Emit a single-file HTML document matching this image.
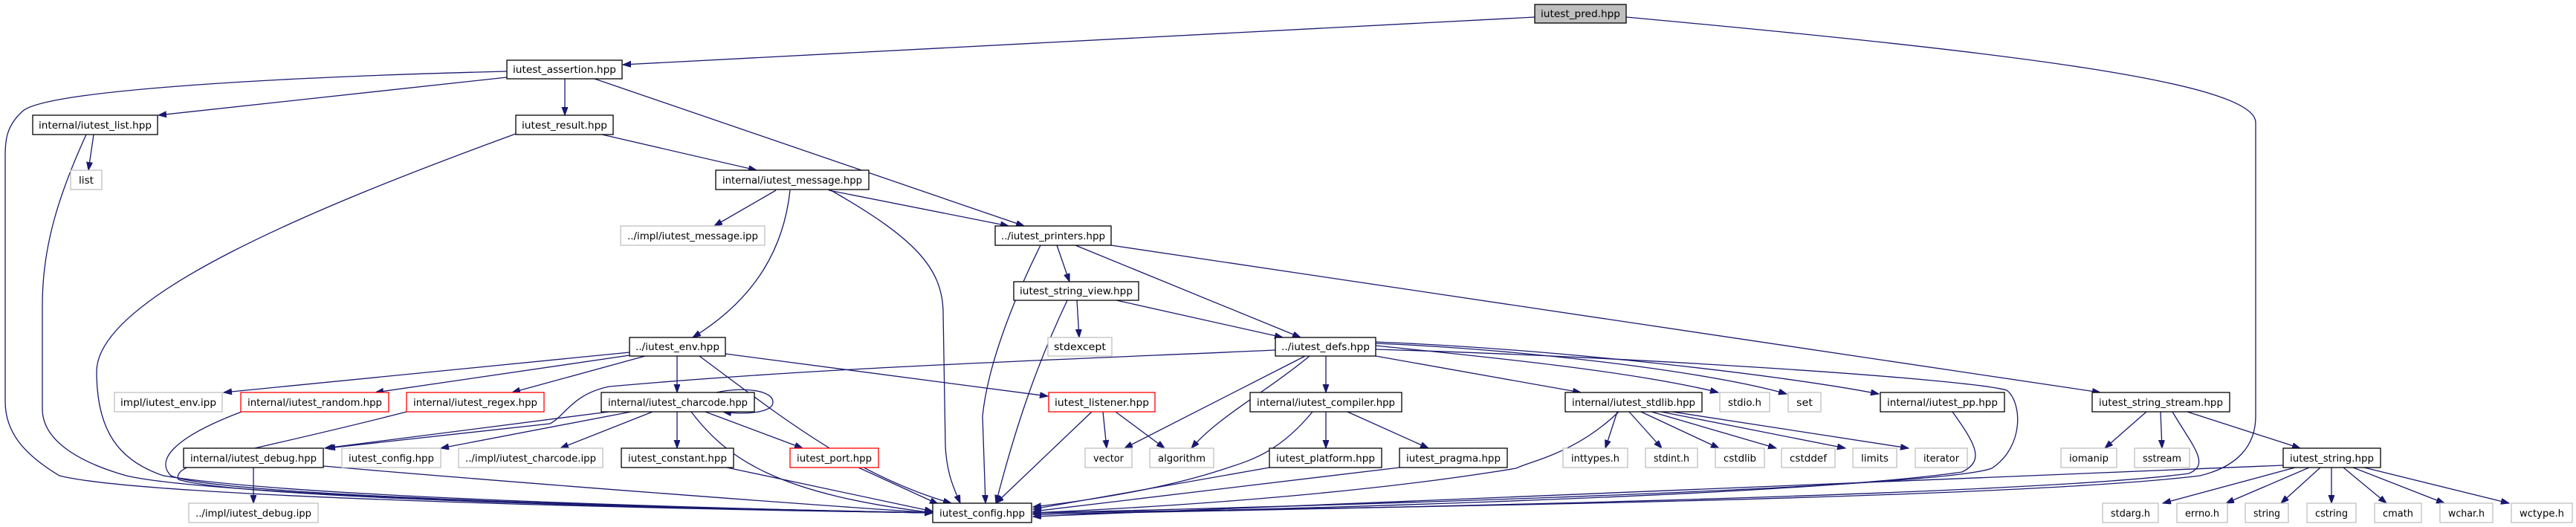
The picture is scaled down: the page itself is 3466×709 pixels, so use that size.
<!DOCTYPE html>
<html><head><meta charset="utf-8"><style>
html,body{margin:0;padding:0;background:#fff;}
svg{display:block;}
text{font-family:"DejaVu Sans","Liberation Sans",sans-serif;font-size:13px;fill:#000;}
.n{fill:#fff;stroke:#000;stroke-width:1.3;}
.g{fill:#fff;stroke:#bfbfbf;stroke-width:1.3;}
.r{fill:#fff;stroke:#ff0000;stroke-width:1.3;}
.p{fill:#bfbfbf;stroke:#000;stroke-width:1.3;}
path.e{fill:none;stroke:#191970;stroke-width:1.3;marker-end:url(#a);}
</style></head><body>
<svg width="3466" height="709" viewBox="0 0 3466 709" xmlns="http://www.w3.org/2000/svg">
<defs><marker id="a" markerUnits="userSpaceOnUse" markerWidth="12" markerHeight="10" refX="11" refY="4" orient="auto"><path d="M0,0 L11,4 L0,8 z" fill="#191970" stroke="#191970"/></marker></defs>

<!-- edges -->
<path class="e" d="M2065,23 L838,87"/>
<path class="e" d="M2188,23 C2700,70 3035,110 3035,165 L3035,560 C3035,600 3010,628 2960,640 C2700,672 1800,684 1390,690"/>
<path class="e" d="M682,104 L213,155"/>
<path class="e" d="M760,106 L760,155"/>
<path class="e" d="M800,106 L1378,304"/>
<path class="e" d="M682,96 C400,103 60,120 30,150 C8,170 7,190 7,210 L7,540 C7,580 30,610 80,640 C200,670 900,685 1255,690"/>
<path class="e" d="M126,181 L119,229"/>
<path class="e" d="M116,181 C80,260 57,330 57,410 L57,550 C57,590 100,620 170,640 C300,670 1000,685 1255,690"/>
<path class="e" d="M810,181 L1018,229"/>
<path class="e" d="M694,180 C420,280 130,400 130,500 C130,580 160,620 220,640 C400,670 1000,685 1255,690"/>
<path class="e" d="M1044,256 L961,304"/>
<path class="e" d="M1115,256 L1357,304"/>
<path class="e" d="M1063,256 C1055,330 1020,400 932,454"/>
<path class="e" d="M1118,256 C1230,320 1268,360 1269,420 L1272,600 C1274,640 1285,660 1292,677"/>
<path class="e" d="M1422,330 L1439,379"/>
<path class="e" d="M1447,330 L1750,454"/>
<path class="e" d="M1400,330 C1375,380 1330,480 1322,560 L1326,677"/>
<path class="e" d="M1495,330 L2826,528"/>
<path class="e" d="M1449,404 L1452,454"/>
<path class="e" d="M1502,404 L1726,454"/>
<path class="e" d="M1436,404 C1400,480 1370,560 1340,677"/>
<path class="e" d="M1716,471 C1400,485 1100,495 820,520 C770,530 760,560 740,570 L440,603"/>
<path class="e" d="M1756,479 L1513,603"/>
<path class="e" d="M1762,479 C1700,530 1640,560 1603,603"/>
<path class="e" d="M1784,479 L1784,528"/>
<path class="e" d="M1851,479 L2127,528"/>
<path class="e" d="M1851,465 C2000,480 2200,500 2312,528"/>
<path class="e" d="M1851,462 C2050,470 2300,500 2404,530"/>
<path class="e" d="M1851,460 C2100,470 2400,505 2528,530"/>
<path class="e" d="M1851,470 C2200,480 2650,510 2700,525 C2720,540 2725,600 2680,630 C2600,660 1600,685 1390,690"/>
<path class="e" d="M1784,554 L1784,603"/>
<path class="e" d="M1813,554 L1922,603"/>
<path class="e" d="M1766,554 C1720,610 1680,620 1650,630 C1560,660 1450,675 1390,682"/>
<path class="e" d="M1708,629 L1390,685"/>
<path class="e" d="M1883,629 L1390,688"/>
<path class="e" d="M2176,554 L2160,603"/>
<path class="e" d="M2192,554 L2236,603"/>
<path class="e" d="M2208,554 L2313,603"/>
<path class="e" d="M2222,554 L2390,603"/>
<path class="e" d="M2235,554 L2483,603"/>
<path class="e" d="M2250,554 L2568,603"/>
<path class="e" d="M2178,554 C2120,610 2060,620 2040,630 C1800,670 1500,685 1390,690"/>
<path class="e" d="M1484,554 L1489,603"/>
<path class="e" d="M1501,554 L1567,603"/>
<path class="e" d="M1469,554 L1340,677"/>
<path class="e" d="M847,474 L301,528"/>
<path class="e" d="M847,478 L505,528"/>
<path class="e" d="M868,479 L689,528"/>
<path class="e" d="M911,479 L911,528"/>
<path class="e" d="M976,476 L1410,533"/>
<path class="e" d="M941,479 C1050,560 1150,640 1280,677"/>
<path class="e" d="M964,528 C1000,520 1040,525 1040,541 C1040,556 1000,558 973,554"/>
<path class="e" d="M819,554 L437,603"/>
<path class="e" d="M849,554 L593,603"/>
<path class="e" d="M878,554 L754,603"/>
<path class="e" d="M911,554 L911,603"/>
<path class="e" d="M949,554 L1080,603"/>
<path class="e" d="M930,554 C980,620 1050,665 1256,690"/>
<path class="e" d="M325,554 C230,590 210,620 230,640 C300,670 1000,685 1255,690"/>
<path class="e" d="M547,554 C330,610 230,620 240,645 C320,672 1000,686 1255,690"/>
<path class="e" d="M341,629 L341,677"/>
<path class="e" d="M435,627 C700,650 1100,680 1255,690"/>
<path class="e" d="M978,629 L1255,688"/>
<path class="e" d="M1155,629 L1262,678"/>
<path class="e" d="M2888,554 L2832,603"/>
<path class="e" d="M2907,554 L2909,603"/>
<path class="e" d="M2943,554 L3095,603"/>
<path class="e" d="M2923,554 C2950,600 2975,625 2945,637 C2700,670 1600,688 1390,692"/>
<path class="e" d="M2627,554 C2660,600 2670,620 2640,635 C2400,670 1600,688 1390,692"/>
<path class="e" d="M3088,629 L2910,677"/>
<path class="e" d="M3107,629 L2995,677"/>
<path class="e" d="M3122,629 L3069,677"/>
<path class="e" d="M3137,629 L3137,677"/>
<path class="e" d="M3153,629 L3211,677"/>
<path class="e" d="M3166,629 L3289,677"/>
<path class="e" d="M3181,629 L3376,677"/>
<path class="e" d="M3072,626 L1390,695"/>

<!-- nodes -->
<g>
<rect class="p" x="2065" y="6" width="123" height="25"/><text x="2126.5" y="23" text-anchor="middle" textLength="107" lengthAdjust="spacingAndGlyphs">iutest_pred.hpp</text>
<rect class="n" x="682" y="81" width="155" height="25"/><text x="759.5" y="98" text-anchor="middle" textLength="139" lengthAdjust="spacingAndGlyphs">iutest_assertion.hpp</text>
<rect class="n" x="44" y="155" width="168" height="26"/><text x="128" y="173" text-anchor="middle" textLength="152" lengthAdjust="spacingAndGlyphs">internal/iutest_list.hpp</text>
<rect class="n" x="694" y="155" width="131" height="26"/><text x="759.5" y="173" text-anchor="middle" textLength="115" lengthAdjust="spacingAndGlyphs">iutest_result.hpp</text>
<rect class="g" x="95" y="229" width="42" height="26"/><text x="116" y="247" text-anchor="middle" textLength="20" lengthAdjust="spacingAndGlyphs">list</text>
<rect class="n" x="963" y="229" width="206" height="26"/><text x="1066" y="247" text-anchor="middle" textLength="188" lengthAdjust="spacingAndGlyphs">internal/iutest_message.hpp</text>
<rect class="g" x="835" y="304" width="194" height="26"/><text x="932" y="322" text-anchor="middle" textLength="176" lengthAdjust="spacingAndGlyphs">../impl/iutest_message.ipp</text>
<rect class="n" x="1339" y="304" width="156" height="26"/><text x="1417" y="322" text-anchor="middle" textLength="140" lengthAdjust="spacingAndGlyphs">../iutest_printers.hpp</text>
<rect class="n" x="1364" y="379" width="168" height="25"/><text x="1448" y="396" text-anchor="middle" textLength="152" lengthAdjust="spacingAndGlyphs">iutest_string_view.hpp</text>
<rect class="n" x="847" y="454" width="129" height="25"/><text x="911.5" y="471" text-anchor="middle" textLength="113" lengthAdjust="spacingAndGlyphs">../iutest_env.hpp</text>
<rect class="g" x="1410" y="454" width="86" height="25"/><text x="1453" y="471" text-anchor="middle" textLength="70" lengthAdjust="spacingAndGlyphs">stdexcept</text>
<rect class="n" x="1716" y="454" width="135" height="25"/><text x="1783.5" y="471" text-anchor="middle" textLength="119" lengthAdjust="spacingAndGlyphs">../iutest_defs.hpp</text>
<rect class="g" x="154" y="528" width="145" height="26"/><text x="226.5" y="546" text-anchor="middle" textLength="129" lengthAdjust="spacingAndGlyphs">impl/iutest_env.ipp</text>
<rect class="r" x="324" y="528" width="199" height="26"/><text x="423.5" y="546" text-anchor="middle" textLength="181" lengthAdjust="spacingAndGlyphs">internal/iutest_random.hpp</text>
<rect class="r" x="547" y="528" width="185" height="26"/><text x="639.5" y="546" text-anchor="middle" textLength="167" lengthAdjust="spacingAndGlyphs">internal/iutest_regex.hpp</text>
<rect class="n" x="809" y="528" width="206" height="26"/><text x="912" y="546" text-anchor="middle" textLength="188" lengthAdjust="spacingAndGlyphs">internal/iutest_charcode.hpp</text>
<rect class="r" x="1411" y="528" width="143" height="26"/><text x="1482.5" y="546" text-anchor="middle" textLength="127" lengthAdjust="spacingAndGlyphs">iutest_listener.hpp</text>
<rect class="n" x="1682" y="528" width="204" height="26"/><text x="1784" y="546" text-anchor="middle" textLength="186" lengthAdjust="spacingAndGlyphs">internal/iutest_compiler.hpp</text>
<rect class="n" x="2106" y="528" width="184" height="26"/><text x="2198" y="546" text-anchor="middle" textLength="166" lengthAdjust="spacingAndGlyphs">internal/iutest_stdlib.hpp</text>
<rect class="g" x="2314" y="528" width="67" height="26"/><text x="2347.5" y="546" text-anchor="middle" textLength="45" lengthAdjust="spacingAndGlyphs">stdio.h</text>
<rect class="g" x="2406" y="528" width="44" height="26"/><text x="2428" y="546" text-anchor="middle" textLength="22" lengthAdjust="spacingAndGlyphs">set</text>
<rect class="n" x="2530" y="528" width="167" height="26"/><text x="2613.5" y="546" text-anchor="middle" textLength="149" lengthAdjust="spacingAndGlyphs">internal/iutest_pp.hpp</text>
<rect class="n" x="2815" y="528" width="185" height="26"/><text x="2907.5" y="546" text-anchor="middle" textLength="167" lengthAdjust="spacingAndGlyphs">iutest_string_stream.hpp</text>
<rect class="n" x="247" y="603" width="188" height="26"/><text x="341" y="621" text-anchor="middle" textLength="170" lengthAdjust="spacingAndGlyphs">internal/iutest_debug.hpp</text>
<rect class="g" x="460" y="603" width="133" height="26"/><text x="526.5" y="621" text-anchor="middle" textLength="115" lengthAdjust="spacingAndGlyphs">iutest_config.hpp</text>
<rect class="g" x="617" y="603" width="194" height="26"/><text x="714" y="621" text-anchor="middle" textLength="176" lengthAdjust="spacingAndGlyphs">../impl/iutest_charcode.ipp</text>
<rect class="n" x="836" y="603" width="151" height="26"/><text x="911.5" y="621" text-anchor="middle" textLength="133" lengthAdjust="spacingAndGlyphs">iutest_constant.hpp</text>
<rect class="r" x="1063" y="603" width="119" height="26"/><text x="1122.5" y="621" text-anchor="middle" textLength="101" lengthAdjust="spacingAndGlyphs">iutest_port.hpp</text>
<rect class="g" x="1460" y="603" width="63" height="26"/><text x="1491.5" y="621" text-anchor="middle" textLength="41" lengthAdjust="spacingAndGlyphs">vector</text>
<rect class="g" x="1547" y="603" width="86" height="26"/><text x="1590" y="621" text-anchor="middle" textLength="64" lengthAdjust="spacingAndGlyphs">algorithm</text>
<rect class="n" x="1708" y="603" width="151" height="26"/><text x="1783.5" y="621" text-anchor="middle" textLength="133" lengthAdjust="spacingAndGlyphs">iutest_platform.hpp</text>
<rect class="n" x="1883" y="603" width="145" height="26"/><text x="1955.5" y="621" text-anchor="middle" textLength="127" lengthAdjust="spacingAndGlyphs">iutest_pragma.hpp</text>
<rect class="g" x="2103" y="603" width="87" height="26"/><text x="2146.5" y="621" text-anchor="middle" textLength="65" lengthAdjust="spacingAndGlyphs">inttypes.h</text>
<rect class="g" x="2214" y="603" width="70" height="26"/><text x="2249" y="621" text-anchor="middle" textLength="48" lengthAdjust="spacingAndGlyphs">stdint.h</text>
<rect class="g" x="2308" y="603" width="66" height="26"/><text x="2341" y="621" text-anchor="middle" textLength="44" lengthAdjust="spacingAndGlyphs">cstdlib</text>
<rect class="g" x="2397" y="603" width="72" height="26"/><text x="2433" y="621" text-anchor="middle" textLength="50" lengthAdjust="spacingAndGlyphs">cstddef</text>
<rect class="g" x="2493" y="603" width="59" height="26"/><text x="2522.5" y="621" text-anchor="middle" textLength="37" lengthAdjust="spacingAndGlyphs">limits</text>
<rect class="g" x="2577" y="603" width="70" height="26"/><text x="2612" y="621" text-anchor="middle" textLength="48" lengthAdjust="spacingAndGlyphs">iterator</text>
<rect class="g" x="2773" y="603" width="75" height="26"/><text x="2810.5" y="621" text-anchor="middle" textLength="53" lengthAdjust="spacingAndGlyphs">iomanip</text>
<rect class="g" x="2872" y="603" width="74" height="26"/><text x="2909" y="621" text-anchor="middle" textLength="52" lengthAdjust="spacingAndGlyphs">sstream</text>
<rect class="n" x="3072" y="603" width="131" height="26"/><text x="3137.5" y="621" text-anchor="middle" textLength="113" lengthAdjust="spacingAndGlyphs">iutest_string.hpp</text>
<rect class="g" x="254" y="677" width="174" height="26"/><text x="341" y="695" text-anchor="middle" textLength="156" lengthAdjust="spacingAndGlyphs">../impl/iutest_debug.ipp</text>
<rect class="n" x="1255" y="677" width="133" height="26"/><text x="1321.5" y="695" text-anchor="middle" textLength="115" lengthAdjust="spacingAndGlyphs">iutest_config.hpp</text>
<rect class="g" x="2829" y="677" width="75" height="26"/><text x="2866.5" y="695" text-anchor="middle" textLength="53" lengthAdjust="spacingAndGlyphs">stdarg.h</text>
<rect class="g" x="2929" y="677" width="68" height="26"/><text x="2963" y="695" text-anchor="middle" textLength="46" lengthAdjust="spacingAndGlyphs">errno.h</text>
<rect class="g" x="3021" y="677" width="58" height="26"/><text x="3050" y="695" text-anchor="middle" textLength="36" lengthAdjust="spacingAndGlyphs">string</text>
<rect class="g" x="3104" y="677" width="66" height="26"/><text x="3137" y="695" text-anchor="middle" textLength="44" lengthAdjust="spacingAndGlyphs">cstring</text>
<rect class="g" x="3195" y="677" width="63" height="26"/><text x="3226.5" y="695" text-anchor="middle" textLength="41" lengthAdjust="spacingAndGlyphs">cmath</text>
<rect class="g" x="3283" y="677" width="71" height="26"/><text x="3318.5" y="695" text-anchor="middle" textLength="49" lengthAdjust="spacingAndGlyphs">wchar.h</text>
<rect class="g" x="3379" y="677" width="82" height="26"/><text x="3420" y="695" text-anchor="middle" textLength="60" lengthAdjust="spacingAndGlyphs">wctype.h</text>
</g>
</svg>
</body></html>
